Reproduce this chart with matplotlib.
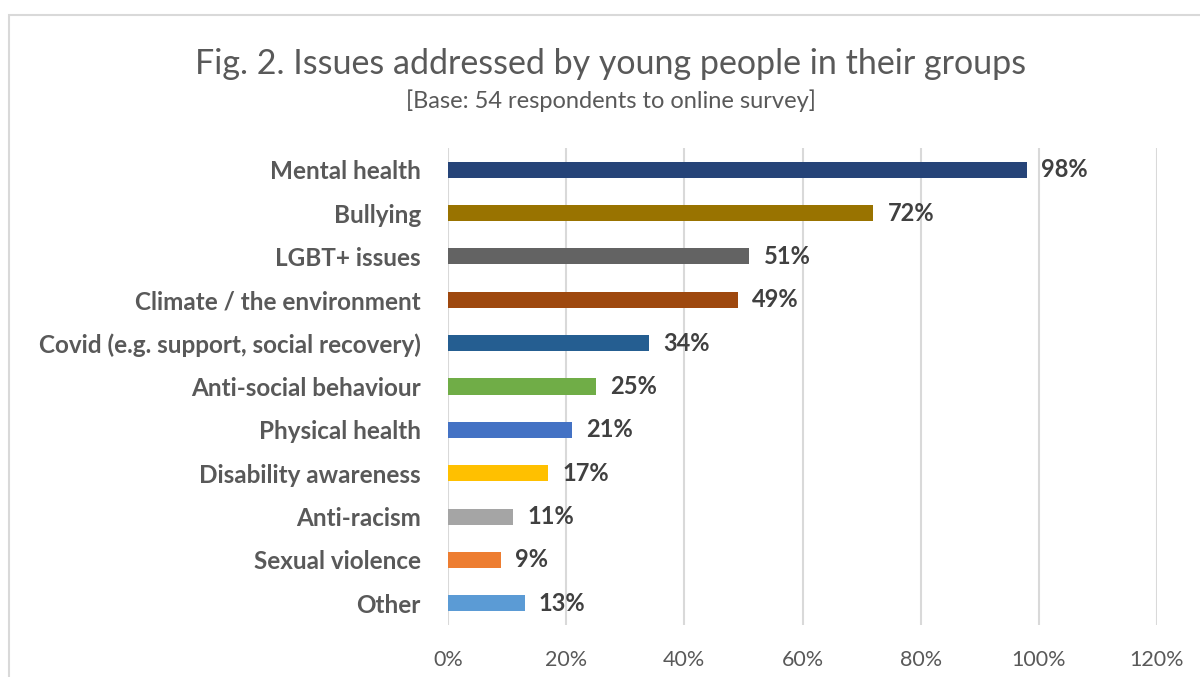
import matplotlib.pyplot as plt
from matplotlib.patches import Rectangle
from matplotlib.ticker import FixedLocator, FuncFormatter

plt.rcParams['font.family'] = ['Lato', 'DejaVu Sans']

categories = ["Mental health", "Bullying", "LGBT+ issues", "Climate / the environment",
              "Covid (e.g. support, social recovery)", "Anti-social behaviour",
              "Physical health", "Disability awareness", "Anti-racism",
              "Sexual violence", "Other"]
values = [98, 72, 51, 49, 34, 25, 21, 17, 11, 9, 13]
colors = ["#264478", "#997300", "#636363", "#9E480E", "#255E91", "#70AD47",
          "#4472C4", "#FFC000", "#A5A5A5", "#ED7D31", "#5B9BD5"]
ticks = [0, 20, 40, 60, 80, 100, 120]

text_grey = "#595959"

fig = plt.figure(figsize=(12, 6.77), dpi=100)
ax = fig.add_axes([0.3733, 0.0768, 0.5909, 0.7046])

ypos = list(range(len(categories)))
ax.barh(ypos, values, height=0.37, color=colors, zorder=3)
for y, v in zip(ypos, values):
    ax.text(v + 2.4, y, f"{v}%", va="center", ha="left", fontsize=17,
            fontweight="bold", color="#404040")

ax.set_xlim(0, 120)
ax.set_ylim(len(categories) - 0.5, -0.5)
ax.xaxis.set_major_locator(FixedLocator(ticks))
ax.xaxis.set_major_formatter(FuncFormatter(lambda x, _: f"{x:.0f}%"))
ax.set_yticks(ypos)
ax.set_yticklabels(categories, fontsize=17.5, fontweight="bold", color=text_grey)
ax.tick_params(axis="x", length=0, labelsize=15.5, labelcolor=text_grey, pad=18)
ax.tick_params(axis="y", length=0, pad=19.5)
ax.grid(axis="x", color="#D9D9D9", linewidth=1.5, zorder=0)
for s in ax.spines.values():
    s.set_visible(False)

fig.text(0.509, 0.906, "Fig. 2. Issues addressed by young people in their groups",
         ha="center", va="center", fontsize=24.5, color=text_grey)
fig.text(0.509, 0.852, "[Base: 54 respondents to online survey]",
         ha="center", va="center", fontsize=17, color=text_grey)

# chart frame, running off the right and bottom edges
fig.patches.append(Rectangle((9 / 1200, -0.1), 1.2, 1 - 15 / 677 + 0.1,
                             transform=fig.transFigure, fill=False,
                             edgecolor="#D9D9D9", linewidth=1.5))

fig.savefig("out.png", dpi=100)
